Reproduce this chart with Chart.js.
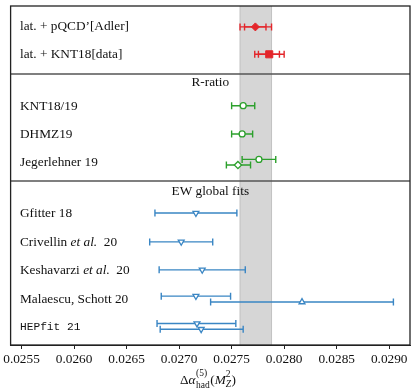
<!DOCTYPE html>
<html lang="en">
<head>
<meta charset="UTF-8">
<title>Delta alpha had comparison</title>
<script src="https://cdn.jsdelivr.net/npm/chart.js"></script>
<style>
  html, body { margin: 0; padding: 0; background: #fff; }
  #wrap { width: 416px; height: 391px; }
</style>
</head>
<body>
<div id="wrap"><canvas id="myChart" width="416" height="391"></canvas></div>
<script>
// tick labels and shaded band
const xTicks = [0.0255, 0.0260, 0.0265, 0.0270, 0.0275, 0.0280, 0.0285, 0.0290];
const band = [0.02758, 0.02788];

// row labels (y in row units, 0 = top of frame)
const labels = ['lat. + pQCD\u2019[Adler]', 'lat. + KNT18[data]', 'KNT18/19', 'DHMZ19', 'Jegerlehner 19',
                'Gfitter 18', 'Crivellin|et al.|20', 'Keshavarzi|et al.|20', 'Malaescu, Schott 20', 'HEPfit 21'];
const labelRows = [0.74, 1.71, 3.56, 4.54, 5.55, 7.36, 8.37, 9.37, 10.39, 11.36];
const sections = ['R-ratio', 'EW global fits'];
const sectionRows = [2.71, 6.58];
const dividerRows = [2.39, 6.2];

// lattice (red): central, inner interval, outer interval
const latCentral = [0.027726, 0.027858];
const latInner = [[0.027623, 0.027827], [0.027755, 0.027955]];
const latOuter = [[0.02758, 0.02788], [0.02772, 0.0280]];
const latRows = [0.74, 1.71];

// R-ratio (green)
const rCentral = [0.02761, 0.02760, 0.02776];
const rErr = [[0.0275, 0.02772], [0.0275, 0.0277], [0.0276, 0.02792]];
const rRows = [3.53, 4.53, 5.43];
const jegDiamond = [0.02756];
const jegErr = [[0.02745, 0.02768]];
const jegRows = [5.63];

// EW fits (blue), downward triangles
const ewCentral = [0.02716, 0.02702, 0.02722, 0.02716, 0.02717, 0.02721];
const ewErr = [[0.02677, 0.02755], [0.02672, 0.02732], [0.02681, 0.02763],
               [0.02683, 0.02749], [0.02679, 0.02754], [0.02682, 0.02761]];
const ewRows = [7.33, 8.35, 9.34, 10.27, 11.24, 11.44];
// Malaescu, Schott upward triangle
const msCentral = [0.02817];
const msErr = [[0.0273, 0.02904]];
const msRows = [10.48];

const RED = '#e3262b', GREEN = '#2ca02c', BLUE = '#3a86c4';
const SERIF = '"Liberation Serif", "DejaVu Serif", serif';

function pts(xs, rows) { return xs.map((v, i) => ({x: v, y: rows[i]})); }

const ctx = document.getElementById('myChart').getContext('2d');

const errorBars = {
    id: 'errorBars',
    beforeDatasetsDraw(chart) {
        const c = chart.ctx, xs = chart.scales.x, ys = chart.scales.y;
        chart.data.datasets.forEach(ds => {
            (ds.errs || []).forEach(level => {
                level.forEach((e, i) => {
                    const y = ys.getPixelForValue(ds.data[i].y);
                    const x0 = xs.getPixelForValue(e[0]), x1 = xs.getPixelForValue(e[1]);
                    c.save();
                    c.strokeStyle = ds.borderColor;
                    c.lineWidth = 1.4;
                    c.beginPath();
                    c.moveTo(x0, y); c.lineTo(x1, y);
                    c.moveTo(x0, y - 3.5); c.lineTo(x0, y + 3.5);
                    c.moveTo(x1, y - 3.5); c.lineTo(x1, y + 3.5);
                    c.stroke();
                    c.restore();
                });
            });
        });
    }
};

const decor = {
    id: 'decor',
    beforeDraw(chart) {
        const c = chart.ctx, a = chart.chartArea, xs = chart.scales.x;
        const b0 = xs.getPixelForValue(band[0]), b1 = xs.getPixelForValue(band[1]);
        c.save();
        c.fillStyle = '#d6d6d6';
        c.fillRect(b0, a.top, b1 - b0, a.bottom - a.top);
        c.strokeStyle = '#c2c2c2';
        c.lineWidth = 1;
        c.beginPath();
        c.moveTo(b0, a.top); c.lineTo(b0, a.bottom);
        c.moveTo(b1, a.top); c.lineTo(b1, a.bottom);
        c.stroke();
        c.restore();
    },
    afterDraw(chart) {
        const c = chart.ctx, a = chart.chartArea, ys = chart.scales.y;
        c.save();
        c.strokeStyle = '#555';
        c.lineWidth = 1.5;
        dividerRows.forEach(r => {
            const y = Math.round(ys.getPixelForValue(r));
            c.beginPath(); c.moveTo(a.left, y); c.lineTo(a.right, y); c.stroke();
        });
        c.strokeStyle = '#222';
        c.lineWidth = 1.3;
        c.strokeRect(a.left, a.top, a.right - a.left, a.bottom - a.top);

        c.fillStyle = '#111';
        c.textBaseline = 'middle';
        c.textAlign = 'left';
        labels.forEach((t, i) => {
            const y = ys.getPixelForValue(labelRows[i]);
            let x = 20;
            if (t.startsWith('HEPfit')) {
                c.font = '11.2px "Liberation Mono", "DejaVu Sans Mono", monospace';
                c.fillText(t, x, y);
                return;
            }
            t.split('|').forEach((part, k) => {
                c.font = (k === 1 ? 'italic ' : '') + '13.3px ' + SERIF;
                const s = k === 0 ? part : (k === 1 ? ' ' + part : '  ' + part);
                c.fillText(s, x, y);
                x += c.measureText(s).width;
            });
        });
        c.textAlign = 'center';
        c.font = '13.3px ' + SERIF;
        sections.forEach((t, i) => c.fillText(t, (a.left + a.right) / 2, ys.getPixelForValue(sectionRows[i])));

        // axis title: Delta alpha^(5)_had (M_Z^2)
        c.textAlign = 'left';
        c.textBaseline = 'alphabetic';
        const base = 384;
        let x = 180;
        const put = (s, font, dy) => { c.font = font; c.fillText(s, x, base + dy); return c.measureText(s).width; };
        x += put('\u0394', '13.3px ' + SERIF, 0);
        x += put('\u03b1', 'italic 13.3px ' + SERIF, 0) + 0.5;
        const w1 = put('(5)', '9.5px ' + SERIF, -8);
        const w2 = put('had', '9.5px ' + SERIF, 4);
        x += Math.max(w1, w2) + 0.5;
        x += put('(', '13.3px ' + SERIF, 0);
        x += put('M', 'italic 13.3px ' + SERIF, 0);
        const w3 = put('2', '9.5px ' + SERIF, -7);
        const w4 = put('Z', 'italic 9.5px ' + SERIF, 3);
        x += Math.max(w3, w4) + 0.5;
        put(')', '13.3px ' + SERIF, 0);
        c.restore();
    }
};

new Chart(ctx, {
    type: 'scatter',
    data: {
        datasets: [
            { data: pts([latCentral[0]], [latRows[0]]), errs: [[latOuter[0]], [latInner[0]]],
              pointStyle: 'rectRot', radius: 4, backgroundColor: RED, borderColor: RED, borderWidth: 1 },
            { data: pts([latCentral[1]], [latRows[1]]), errs: [[latOuter[1]], [latInner[1]]],
              pointStyle: 'rect', radius: 5, backgroundColor: RED, borderColor: RED, borderWidth: 1 },
            { data: pts(rCentral, rRows), errs: [rErr],
              pointStyle: 'circle', radius: 3, backgroundColor: '#fff', borderColor: GREEN, borderWidth: 1.3 },
            { data: pts(jegDiamond, jegRows), errs: [jegErr],
              pointStyle: 'rectRot', radius: 3.6, backgroundColor: '#fff', borderColor: GREEN, borderWidth: 1.3 },
            { data: pts(ewCentral, ewRows), errs: [ewErr],
              pointStyle: 'triangle', rotation: 180, radius: 3.4, backgroundColor: '#fff', borderColor: BLUE, borderWidth: 1.3 },
            { data: pts(msCentral, msRows), errs: [msErr],
              pointStyle: 'triangle', radius: 3.4, backgroundColor: '#fff', borderColor: BLUE, borderWidth: 1.3 }
        ]
    },
    options: {
        responsive: false,
        animation: false,
        events: [],
        layout: { padding: { left: 9, right: 4, top: 4, bottom: 0 } },
        plugins: { legend: { display: false }, tooltip: { enabled: false } },
        scales: {
            x: {
                type: 'linear',
                min: 0.025396,
                max: 0.029198,
                afterBuildTicks(scale) { scale.ticks = xTicks.map(v => ({value: v})); },
                afterFit(scale) { scale.height = 46; },
                grid: { drawOnChartArea: false, drawTicks: true, tickLength: 4, color: '#222' },
                border: { display: true, color: '#222' },
                ticks: {
                    color: '#111',
                    padding: 3,
                    maxRotation: 0,
                    font: { family: SERIF, size: 13.3 },
                    callback: v => v.toFixed(4)
                }
            },
            y: {
                type: 'linear',
                display: false,
                reverse: true,
                min: 0,
                max: 12
            }
        }
    },
    plugins: [decor, errorBars]
});
</script>
</body>
</html>
